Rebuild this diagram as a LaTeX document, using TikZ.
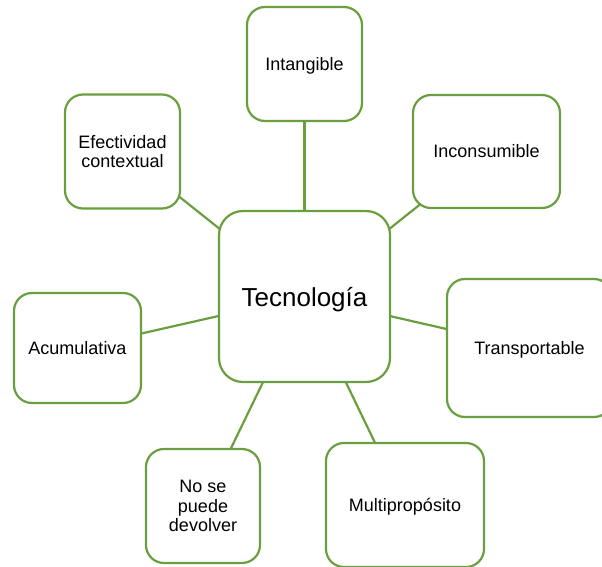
\documentclass[tikz,border=0pt]{standalone}
\usepackage{fontspec}
\setmainfont{Liberation Sans}
\usetikzlibrary{backgrounds}
\definecolor{gline}{RGB}{106,159,64}
\begin{document}
\begin{tikzpicture}[x=1pt,y=-1pt,
  box/.style={draw=gline, line width=2.2pt, fill=white, rounded corners=18pt,
    inner sep=0pt, align=center, font=\fontsize{18}{19.5}\selectfont},
  nodepth/.style={text depth=0pt},
  link/.style={draw=gline, line width=2.2pt}]
\useasboundingbox (0,0) rectangle (602,567);
\node[box, nodepth, minimum width=171pt, minimum height=171pt, rounded corners=24pt,
  font=\fontsize{26}{28}\selectfont] (tec) at (304.5,296.5) {Tecnología};
\node[box, nodepth, minimum width=115pt, minimum height=114pt] (int) at (304.5,64) {Intangible};
\node[box, minimum width=147pt, minimum height=113pt] (inc) at (486.5,151.5) {Inconsumible};
\node[box, minimum width=115pt, minimum height=114pt] (efe) at (122.5,151.5) {Efectividad\\contextual};
\node[box, minimum width=127pt, minimum height=110pt] (acu) at (77.5,348) {Acumulativa};
\node[box, nodepth, minimum width=165pt, minimum height=138pt] (tra) at (529.5,348) {Transportable};
\node[box, minimum width=114pt, minimum height=114pt] (nos) at (203,506) {No se\\puede\\devolver};
\node[box, nodepth, minimum width=158pt, minimum height=124pt] (mul) at (405,505) {Multipropósito};
\begin{pgfonlayer}{background}
\draw[link] (tec.center) -- (int.center);
\draw[link] (tec.center) -- (inc.center);
\draw[link] (tec.center) -- (efe.center);
\draw[link] (tec.center) -- (acu.center);
\draw[link] (tec.center) -- (tra.center);
\draw[link] (tec.center) -- (nos.center);
\draw[link] (tec.center) -- (mul.center);
\end{pgfonlayer}
\end{tikzpicture}
\end{document}
